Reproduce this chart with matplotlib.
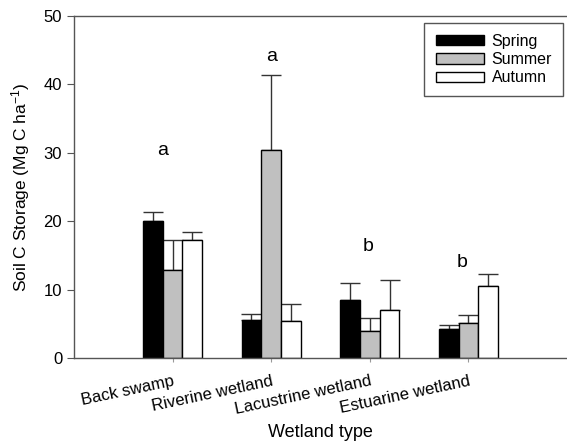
import numpy as np
import matplotlib
matplotlib.use('Agg')
import matplotlib.pyplot as plt

plt.rcParams['font.family'] = ['Liberation Sans', 'DejaVu Sans']
plt.rcParams['mathtext.default'] = 'regular'

# data
wetlands = ['Back swamp', 'Riverine wetland', 'Lacustrine wetland', 'Estuarine wetland']
seasons = ['Spring', 'Summer', 'Autumn']
spring = [20.0, 5.5, 8.5, 4.3]
summer = [12.8, 30.4, 3.9, 5.2]
autumn = [17.3, 5.4, 7.0, 10.5]
spring_err = [1.3, 1.0, 2.4, 0.6]
summer_err = [4.5, 10.9, 2.0, 1.1]
autumn_err = [1.1, 2.5, 4.4, 1.8]
letters = ['a', 'a', 'b', 'b']
letter_y = [30.4, 44.0, 16.3, 14.0]
letter_dx = [-0.1, 0.0, -0.02, -0.06]

colors = ['black', '#c0c0c0', 'white']

fig = plt.figure(figsize=(5.67, 4.41), dpi=100)
ax = fig.add_axes([0.1305, 0.188, 0.8695, 0.776])

x = np.arange(len(wetlands))
w = 0.2
vals = [spring, summer, autumn]
errs = [spring_err, summer_err, autumn_err]
for i in range(3):
    pos = x + (i - 1) * w
    ax.bar(pos, vals[i], w, color=colors[i], edgecolor='black', linewidth=1.0,
           label=seasons[i], zorder=2)
    ax.errorbar(pos, vals[i], yerr=[np.zeros(4), errs[i]], fmt='none',
                ecolor='#333333', elinewidth=1.0, capsize=7, capthick=1.0, zorder=1)

for i in range(len(wetlands)):
    ax.text(x[i] + letter_dx[i], letter_y[i], letters[i],
            ha='center', va='center', fontsize=14)

ax.set_xlim(-1, 4)
ax.set_ylim(0, 50)
ax.set_yticks([0, 10, 20, 30, 40, 50])
ax.set_xticks(x)
ax.set_xticklabels(wetlands, rotation=12, ha='right', rotation_mode='anchor', fontsize=12)
ax.tick_params(axis='y', labelsize=12, length=5, color='#555555')
ax.tick_params(axis='x', length=3, color='#999999', pad=8)
for s in ['left', 'bottom', 'top']:
    ax.spines[s].set_color('#555555')
    ax.spines[s].set_linewidth(1.0)
ax.spines['right'].set_visible(False)

ax.set_xlabel('Wetland type', fontsize=13, labelpad=5)
ax.set_ylabel('Soil C Storage (Mg C ha$^{-1}$)', fontsize=12.5, labelpad=8)

leg = ax.legend(loc='upper right', bbox_to_anchor=(0.992, 0.98), fontsize=11.5,
                fancybox=False, framealpha=1, edgecolor='#555555', borderaxespad=0,
                handlelength=3.0, handleheight=0.6, handletextpad=0.5,
                borderpad=0.7, labelspacing=0.2)
leg.get_frame().set_linewidth(1.0)

fig.savefig('out.png', dpi=100)
